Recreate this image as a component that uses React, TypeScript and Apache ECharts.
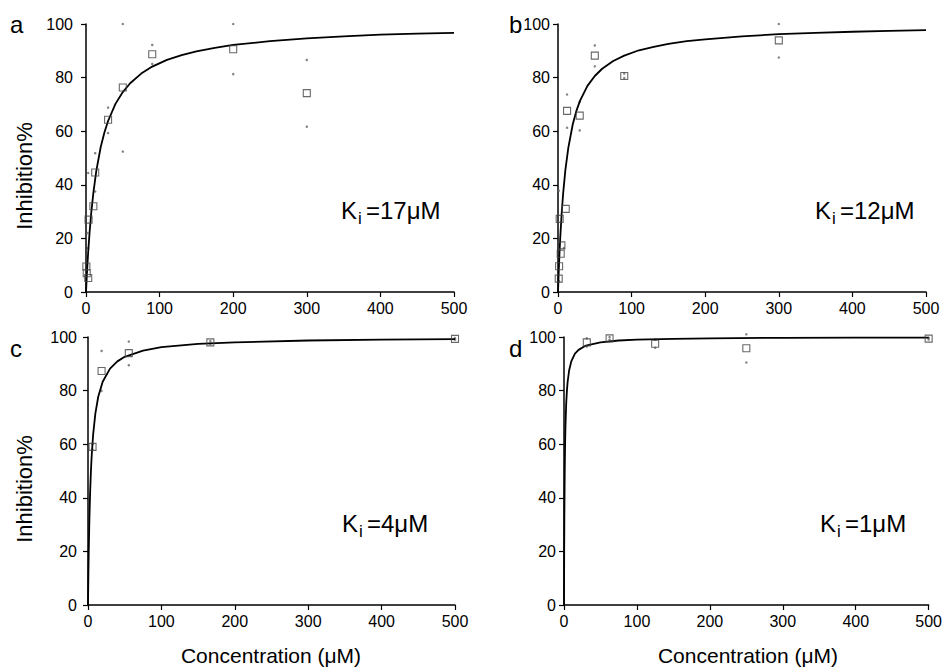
import React, { useEffect, useRef } from "react";
import * as echarts from "echarts";

// ---- Data ----
// Fitted curves
const curveXA = [0, 1, 2, 3, 5, 7, 10, 14, 20, 25, 30, 40, 50, 60, 75, 90, 110, 130, 150, 175, 200, 250, 300, 350, 400, 450, 500];
const curveYA = [0, 5.6, 10.5, 15, 22.7, 29.2, 37, 45.2, 54.1, 59.5, 63.8, 70.2, 74.6, 77.9, 81.5, 84.1, 86.6, 88.4, 89.8, 91.1, 92.2, 93.6, 94.6, 95.4, 96.0, 96.4, 96.7];
const curveXB = [0, 1, 2, 3, 5, 7, 10, 14, 20, 25, 30, 40, 50, 60, 75, 90, 110, 130, 150, 175, 200, 250, 300, 350, 400, 450, 500];
const curveYB = [0, 7.7, 14.3, 20, 29.4, 36.8, 45.5, 53.8, 62.5, 67.6, 71.4, 76.9, 80.6, 83.3, 86.2, 88.2, 90.2, 91.5, 92.6, 93.6, 94.3, 95.4, 96.2, 96.7, 97.1, 97.4, 97.7];
const curveXC = [0, 0.5, 1, 2, 3, 4, 5, 7, 10, 14, 20, 30, 40, 50, 75, 100, 150, 200, 300, 400, 500];
const curveYC = [0, 11.1, 20, 33.3, 42.9, 50, 55.6, 63.6, 71.4, 77.8, 83.3, 88.2, 90.9, 92.6, 94.9, 96.2, 97.4, 98.0, 98.7, 99.0, 99.2];
const curveXD = [0, 0.25, 0.5, 1, 1.5, 2, 3, 4, 5, 7, 10, 15, 20, 30, 50, 75, 100, 150, 200, 300, 400, 500];
const curveYD = [0, 20, 33.3, 50, 60, 66.7, 75, 80, 83.3, 87.5, 90.9, 93.8, 95.2, 96.8, 98.0, 98.7, 99.0, 99.3, 99.5, 99.7, 99.75, 99.8];

// Mean values (open squares)
const meanXA = [0.5, 1, 3, 3.5, 10, 12.5, 30, 50, 90, 200, 300];
const meanYA = [9.5, 7, 5.2, 27, 32, 44.6, 64.3, 76.3, 88.7, 90.6, 74.2];
const meanXB = [1, 1.5, 3.7, 4.6, 2.3, 10.5, 12.3, 29.5, 50, 90, 300];
const meanYB = [5, 9.6, 14.3, 17.4, 27.3, 31, 67.6, 65.8, 88.2, 80.6, 93.9];
const meanXC = [6.2, 18.5, 55.6, 166.7, 500];
const meanYC = [59, 87.3, 94, 98, 99.3];
const meanXD = [31.25, 62.5, 125, 250, 500];
const meanYD = [98, 99.5, 97.5, 95.8, 99.4];

// Replicates (small dots)
const repXA = [50, 50, 90, 90, 200, 200, 300, 300, 30, 30, 12.5, 12.5, 3, 3, 2];
const repYA = [100, 52.4, 92.2, 85.1, 100, 81.3, 86.6, 61.7, 68.8, 59.3, 51.8, 37.5, 44.4, 16.4, 22];
const repXB = [12.3, 12.3, 29.5, 29.5, 50, 50, 90, 90, 300, 300, 1, 8, 1.5];
const repYB = [73.7, 61.3, 71, 60.3, 92, 84.2, 81.5, 79.8, 100, 87.5, 37.8, 16.4, 4];
const repXC = [6.2, 6.2, 18.5, 18.5, 55.6, 55.6, 166.7, 166.7, 500, 500];
const repYC = [60, 58, 94.8, 79.9, 98.3, 89.5, 98.5, 97.5, 99.6, 99.0];
const repXD = [31.25, 31.25, 62.5, 62.5, 125, 125, 250, 250, 500, 500];
const repYD = [99.5, 96.5, 100, 99, 99, 96, 101, 90.5, 99.7, 99.1];

const panelLetters = ["a", "b", "c", "d"];
const kiValues = ["=17μM", "=12μM", "=4μM", "=1μM"];
const yTitle = "Inhibition%";
const xTitle = "Concentration (μM)";

const FONT = '"Liberation Sans", Arial, Helvetica, sans-serif';

const grids = [
  { left: 86, top: 24, width: 368, height: 268 },
  { left: 558, top: 24, width: 368, height: 268 },
  { left: 88, top: 337, width: 367, height: 268 },
  { left: 564, top: 337, width: 368, height: 268 },
];
const yLabelMargins = [13, 8, 11, 8];

const zip = (xs: number[], ys: number[]) => xs.map((x, i) => [x, ys[i]]);

export default function App() {
  const ref = useRef<HTMLDivElement>(null);
  useEffect(() => {
    if (!ref.current) return;
    const chart = echarts.init(ref.current, undefined, { renderer: "svg" });
    const panels = [
      [curveXA, curveYA, meanXA, meanYA, repXA, repYA],
      [curveXB, curveYB, meanXB, meanYB, repXB, repYB],
      [curveXC, curveYC, meanXC, meanYC, repXC, repYC],
      [curveXD, curveYD, meanXD, meanYD, repXD, repYD],
    ];
    const series: any[] = [];
    panels.forEach((p, i) => {
      series.push({
        type: "line",
        xAxisIndex: i,
        yAxisIndex: i,
        data: zip(p[0], p[1]),
        showSymbol: false,
        smooth: false,
        lineStyle: { color: "#000", width: 1.8 },
        z: 3,
      });
      series.push({
        type: "scatter",
        xAxisIndex: i,
        yAxisIndex: i,
        data: zip(p[4], p[5]),
        symbol: "circle",
        symbolSize: 2.5,
        clip: false,
        itemStyle: { color: "#666" },
        z: 2,
      });
      series.push({
        type: "scatter",
        xAxisIndex: i,
        yAxisIndex: i,
        data: zip(p[2], p[3]),
        symbol: "rect",
        symbolSize: 7,
        clip: false,
        itemStyle: { color: "rgba(255,255,255,0)", borderColor: "#444", borderWidth: 1.1 },
        z: 4,
      });
    });

    const axisCommon = {
      type: "value",
      splitLine: { show: false },
      axisLine: { show: true, onZero: false, lineStyle: { color: "#000", width: 1.5 } },
      axisTick: { show: true, length: 5, lineStyle: { color: "#000", width: 1.2 } },
    };

    const graphic: any[] = [];
    const letterPos = [[10, 24], [509, 24], [10, 348], [509, 348]];
    panelLetters.forEach((t, i) => {
      graphic.push({
        type: "text",
        x: letterPos[i][0],
        y: letterPos[i][1],
        style: { text: t, font: `24px ${FONT}`, fill: "#000", textAlign: "left", textVerticalAlign: "middle" },
      });
    });
    const kiPos = [[341, 210], [815, 210], [342, 523], [820, 523]];
    kiValues.forEach((t, i) => {
      const [x, y] = kiPos[i];
      graphic.push({
        type: "text", x, y,
        style: { text: "K", font: `24px ${FONT}`, fill: "#000", textAlign: "left", textVerticalAlign: "middle" },
      });
      graphic.push({
        type: "text", x: x + 17, y: y + 8,
        style: { text: "i", font: `17px ${FONT}`, fill: "#000", textAlign: "left", textVerticalAlign: "middle" },
      });
      graphic.push({
        type: "text", x: x + 25, y,
        style: { text: t, font: `24px ${FONT}`, fill: "#000", textAlign: "left", textVerticalAlign: "middle" },
      });
    });
    [[24, 176], [24, 489]].forEach(([x, y]) => {
      graphic.push({
        type: "text", x, y, rotation: Math.PI / 2,
        style: { text: yTitle, font: `22px ${FONT}`, fill: "#000", textAlign: "center", textVerticalAlign: "middle" },
      });
    });
    [[271, 655], [748, 655]].forEach(([x, y]) => {
      graphic.push({
        type: "text", x, y,
        style: { text: xTitle, font: `21px ${FONT}`, fill: "#000", textAlign: "center", textVerticalAlign: "middle" },
      });
    });

    chart.setOption({
      animation: false,
      backgroundColor: "#fff",
      grid: grids,
      xAxis: grids.map((_, i) => ({
        ...axisCommon,
        gridIndex: i,
        min: 0,
        max: 500,
        interval: 100,
        axisLabel: { color: "#000", fontSize: 16, fontFamily: FONT, margin: 8 },
      })),
      yAxis: grids.map((_, i) => ({
        ...axisCommon,
        gridIndex: i,
        min: 0,
        max: 100,
        interval: 20,
        axisLabel: { color: "#000", fontSize: 16, fontFamily: FONT, margin: yLabelMargins[i] },
      })),
      series,
      graphic,
    });
    return () => chart.dispose();
  }, []);
  return (
    <div
      ref={ref}
      style={{ position: "fixed", left: 0, top: 0, width: 945, height: 667, background: "#fff" }}
    />
  );
}
